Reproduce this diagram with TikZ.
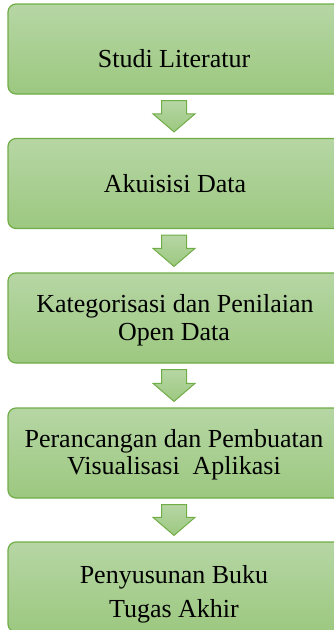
\documentclass[tikz,border=0pt]{standalone}
\usepackage{fontspec}
\setmainfont{Liberation Serif}
\usetikzlibrary{calc}

\definecolor{stepline}{RGB}{112,173,71}
\definecolor{steptop}{RGB}{182,214,164}
\definecolor{stepbottom}{RGB}{156,200,128}

\tikzset{
  stepbox/.style={rectangle, rounded corners=8pt, draw=stepline, line width=1.2pt,
    top color=steptop, bottom color=stepbottom,
    minimum width=337pt, minimum height=90pt, inner sep=0pt},
  steptext/.style={anchor=base, inner sep=0pt, font=\fontsize{26}{27}\selectfont, text=black},
  % block arrow from the bottom of one box to the top of the next,
  % its axis set 2.5pt left of the box centre line
  blockarrow/.style={draw=stepline, line width=1pt, line join=miter,
    top color=steptop, bottom color=stepbottom,
    to path={
      let \p1=($(\tikztostart.south)+(-2.5pt,0)$), \p2=(\tikztotarget.north) in
      (\x1-12.5pt,\y1-6pt) -- (\x1+12.5pt,\y1-6pt) -- (\x1+12.5pt,\y2+24pt)
      -- (\x1+21pt,\y2+24pt) -- (\x1,\y2+6pt) -- (\x1-21pt,\y2+24pt)
      -- (\x1-12.5pt,\y2+24pt) -- cycle}}
}

\begin{document}
\begin{tikzpicture}[x=1pt, y=-1pt]
  \useasboundingbox (0,0) rectangle (334,630);
  \begin{scope}
    \clip (0,0) rectangle (334,630);

    % process boxes (they run past the right and bottom edges)
    \node[stepbox] (b1) at (176.5,49)  {};
    \node[stepbox] (b2) at (176.5,183.5) {};
    \node[stepbox] (b3) at (176.5,318) {};
    \node[stepbox] (b4) at (176.5,453) {};
    \node[stepbox] (b5) at (176.5,587) {};

    % block arrows between the steps
    \path[blockarrow] (b1) to (b2);
    \path[blockarrow] (b2) to (b3);
    \path[blockarrow] (b3) to (b4);
    \path[blockarrow] (b4) to (b5);

    % step labels
    \node[steptext] (t1)  at (174,67)  {Studi Literatur};
    \node[steptext] (t2)  at (175,192) {Akuisisi Data};
    \node[steptext] (t3a) at (175,312) {Kategorisasi dan Penilaian};
    \node[steptext] (t3b) at (174,340) {Open Data};
    \node[steptext] (t4a) at (174,447) {Perancangan dan Pembuatan};
    \node[steptext] (t4b) at (174,474) {Visualisasi\ \ Aplikasi};
    \node[steptext] (t5a) at (174,583) {Penyusunan Buku};
    \node[steptext] (t5b) at (174,617) {Tugas Akhir};
  \end{scope}
\end{tikzpicture}
\end{document}
